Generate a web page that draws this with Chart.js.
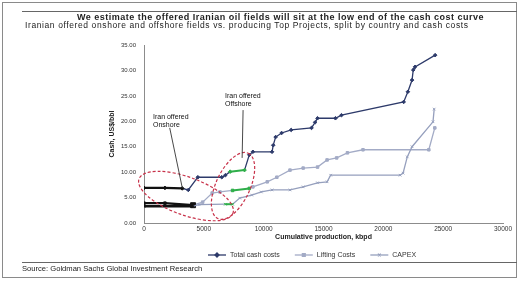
<!DOCTYPE html>
<html>
<head>
<meta charset="utf-8">
<script src="https://cdn.jsdelivr.net/npm/chart.js@4.4.1/dist/chart.umd.min.js"></script>
<style>
  body { margin: 0; background: #fff; }
  #wrap { position: relative; width: 519px; height: 281px; overflow: hidden; font-family: "Liberation Sans", Arial, sans-serif; color: #222; }
  #chart { position: absolute; left: 0; top: 0; }
  .frame { position: absolute; left: 2px; top: 2px; width: 515px; height: 276px; border: 1px solid #8a8a8a; box-sizing: border-box; }
  .rule { position: absolute; left: 22px; width: 495px; height: 0; border-top: 1px solid #666; }
  .title { position: absolute; left: 77px; top: 12.5px; font-size: 9px; line-height: 9px; letter-spacing: 0.5px; font-weight: bold; white-space: nowrap; }
  .sub { position: absolute; left: 25px; top: 20.5px; font-size: 8.5px; line-height: 9px; letter-spacing: 0.6px; white-space: nowrap; }
  .src { position: absolute; left: 22px; top: 265px; font-size: 7.6px; line-height: 8px; white-space: nowrap; }
</style>
</head>
<body>
<div id="wrap">
  <canvas id="chart" width="519" height="281"></canvas>
  <div class="frame"></div>
  <div class="rule" style="top:11px"></div>
  <div class="title">We estimate the offered Iranian oil fields will sit at the low end of the cash cost curve</div>
  <div class="sub">Iranian offered onshore and offshore fields vs. producing Top Projects, split by country and cash costs</div>
  <div class="rule" style="top:262px"></div>
  <div class="src">Source: Goldman Sachs Global Investment Research</div>
</div>
<script>
// values (kbpd, US$/bbl)

const totalX = [0, 1750, 3200, 3700, 4500, 6500, 6800, 7200, 8400, 8800, 9100, 10700, 10800, 11000, 11500, 12300, 14000, 14300, 14500, 16000, 16500, 21700, 22050, 22400, 22500, 22650, 24330]
const totalY = [6.9, 6.9, 6.8, 6.5, 9.0, 9.0, 9.4, 10.1, 10.4, 13.4, 14.0, 14.0, 15.3, 16.9, 17.7, 18.3, 18.7, 19.8, 20.6, 20.6, 21.2, 23.8, 25.8, 28.1, 30.1, 30.7, 33.0]

const liftX = [0, 1750, 4100, 4900, 5700, 6350, 7400, 8800, 9100, 10300, 11100, 12200, 13300, 14500, 15300, 16100, 17000, 18300, 23800, 24300]
const liftY = [3.9, 3.9, 3.5, 4.1, 5.9, 6.1, 6.4, 6.8, 7.1, 8.1, 9.0, 10.4, 10.8, 11.0, 12.4, 12.8, 13.8, 14.4, 14.4, 18.7]

const capexX = [0, 4100, 4600, 6800, 7400, 8000, 9000, 9800, 10700, 12200, 13300, 14500, 15300, 15600, 21400, 21650, 22000, 22400, 24150, 24250]
const capexY = [3.3, 3.3, 3.6, 3.7, 3.7, 4.9, 5.5, 6.1, 6.5, 6.5, 7.1, 7.9, 8.1, 9.4, 9.4, 9.8, 13.0, 15.0, 19.9, 22.4]

const seriesNames = ['Total cash costs', 'Lifting Costs', 'CAPEX']

// Iranian fields highlighted inside each series: [from, to] in kbpd
const totalOnshore = [0, 3200]
const totalOffshore = [7200, 8400]
const liftOnshore = [0, 4100]
const liftOffshore = [7400, 8800]
const capexOnshore = [0, 4100]
const capexOffshore = [6800, 7400]

const xTicks = [0, 5000, 10000, 15000, 20000, 25000, 30000]
const yTicks = [0, 5, 10, 15, 20, 25, 30, 35]

// callouts, anchored in data units
const callouts = [
    { text: ['Iran offered', 'Onshore'], at: [750, 20.8], from: [2150, 18.7], to: [3200, 6.9] },
    { text: ['Iran offered', 'Offshore'], at: [6770, 24.9], from: [8280, 22.2], to: [8200, 12.8] }
]
const rings = [
    { center: [3510, 5.3], rx: 50, ry: 19, turn: 20 },
    { center: [7440, 7.3], rx: 36, ry: 17, turn: -65 }
]

const NAVY = '#2d3a6a'
const LIFT = '#a3abc6'
const CAPEX = '#959fbd'
const ONSHORE = '#111111'
const OFFSHORE = '#2fae4a'

const pts = (xs, ys) => xs.map((x, i) => ({ x: x, y: ys[i] }))
const inside = (x, r) => x >= r[0] && x <= r[1]

function makeSet(label, xs, ys, color, style, onshore, offshore) {
    const pick = x => inside(x, onshore) ? ONSHORE : inside(x, offshore) ? OFFSHORE : color
    return {
        label: label,
        data: pts(xs, ys),
        showLine: true,
        borderColor: color,
        backgroundColor: color,
        borderWidth: 1.3,
        pointStyle: style,
        pointRadius: 1.8,
        pointBorderWidth: 1,
        pointBorderColor: ctx => pick(ctx.parsed.x),
        pointBackgroundColor: ctx => pick(ctx.parsed.x),
        segment: {
            borderColor: ctx => {
                const a = ctx.p0.parsed.x, b = ctx.p1.parsed.x
                if (inside(a, onshore) && inside(b, onshore)) return ONSHORE
                if (inside(a, offshore) && inside(b, offshore)) return OFFSHORE
                return color
            },
            borderWidth: ctx => {
                const a = ctx.p0.parsed.x, b = ctx.p1.parsed.x
                if (inside(a, onshore) && inside(b, onshore)) return 2.4
                if (inside(a, offshore) && inside(b, offshore)) return 2
                return 1.3
            }
        }
    }
}

const datasets = [
    makeSet(seriesNames[2], capexX, capexY, CAPEX, 'crossRot', capexOnshore, capexOffshore),
    makeSet(seriesNames[1], liftX, liftY, LIFT, 'rect', liftOnshore, liftOffshore),
    makeSet(seriesNames[0], totalX, totalY, NAVY, 'rectRot', totalOnshore, totalOffshore)
]
// end of onshore lifting line carries a heavier marker
datasets[1].pointRadius = ctx => ctx.parsed.x === liftOnshore[1] ? 3.5 : 1.8

// dashed red rings + callout labels
const notes = {
    id: 'notes',
    afterDatasetsDraw(chart) {
        const c = chart.ctx, xs = chart.scales.x, ys = chart.scales.y
        c.save()
        c.strokeStyle = '#c8324a'
        c.lineWidth = 1.2
        c.setLineDash([3, 2])
        rings.forEach(r => {
            c.beginPath()
            c.ellipse(xs.getPixelForValue(r.center[0]), ys.getPixelForValue(r.center[1]), r.rx, r.ry, r.turn * Math.PI / 180, 0, Math.PI * 2)
            c.stroke()
        })
        c.setLineDash([])
        c.strokeStyle = '#333'
        c.lineWidth = 0.9
        c.fillStyle = '#111'
        c.font = '7px "Liberation Sans", Arial, sans-serif'
        c.textBaseline = 'middle'
        callouts.forEach(n => {
            const x = xs.getPixelForValue(n.at[0]), y = ys.getPixelForValue(n.at[1])
            n.text.forEach((t, i) => c.fillText(t, x, y + i * 8))
            c.beginPath()
            c.moveTo(xs.getPixelForValue(n.from[0]), ys.getPixelForValue(n.from[1]))
            c.lineTo(xs.getPixelForValue(n.to[0]), ys.getPixelForValue(n.to[1]))
            c.stroke()
        })
        c.restore()
    }
}

// legend drawn under the axis title, in the order of the original
const legendRow = {
    id: 'legendRow',
    afterDraw(chart) {
        const c = chart.ctx
        const order = [2, 1, 0]
        let x = 208
        const y = 255
        c.save()
        c.font = '7px "Liberation Sans", Arial, sans-serif'
        c.textBaseline = 'middle'
        order.forEach(i => {
            const ds = chart.data.datasets[i]
            c.strokeStyle = ds.borderColor
            c.fillStyle = ds.borderColor
            c.lineWidth = 1.3
            c.beginPath()
            c.moveTo(x, y)
            c.lineTo(x + 18, y)
            c.stroke()
            Chart.helpers.drawPoint(c, { pointStyle: ds.pointStyle, radius: 2, borderWidth: 1 }, x + 9, y)
            c.fillStyle = '#333'
            c.fillText(ds.label, x + 22, y)
            x += 22 + c.measureText(ds.label).width + 15
        })
        c.restore()
    }
}

new Chart(document.getElementById('chart'), {
    type: 'scatter',
    data: { datasets: datasets },
    options: {
        responsive: false,
        animation: false,
        layout: { padding: { left: 105, top: 45, right: 16, bottom: 36 } },
        plugins: { legend: { display: false }, tooltip: { enabled: false } },
        scales: {
            x: {
                type: 'linear',
                min: xTicks[0],
                max: xTicks[xTicks.length - 1],
                afterBuildTicks: s => { s.ticks = xTicks.map(v => ({ value: v })) },
                afterFit: s => { s.height = 22 },
                grid: { display: false, drawTicks: false },
                border: { display: true, color: '#8c8c8c', width: 1 },
                ticks: { font: { size: 6.5, family: '"Liberation Sans", Arial' }, color: '#333', padding: 2, maxRotation: 0, callback: v => String(v) },
                title: { display: true, text: 'Cumulative production, kbpd', font: { size: 7, weight: 'bold', family: '"Liberation Sans", Arial' }, color: '#222', padding: { top: 0, bottom: 3.8 } }
            },
            y: {
                type: 'linear',
                min: yTicks[0],
                max: yTicks[yTicks.length - 1],
                afterBuildTicks: s => { s.ticks = yTicks.map(v => ({ value: v })) },
                afterFit: s => { s.width = 39 },
                grid: { display: false, drawTicks: false },
                border: { display: true, color: '#8c8c8c', width: 1 },
                ticks: { font: { size: 6, family: '"Liberation Sans", Arial' }, color: '#333', padding: 8, callback: v => v.toFixed(2) },
                title: { display: true, text: 'Cash, US$/bbl', font: { size: 7, weight: 'bold', family: '"Liberation Sans", Arial' }, color: '#222', padding: { top: 2.8, bottom: 0 } }
            }
        }
    },
    plugins: [notes, legendRow]
})
</script>
</body>
</html>
